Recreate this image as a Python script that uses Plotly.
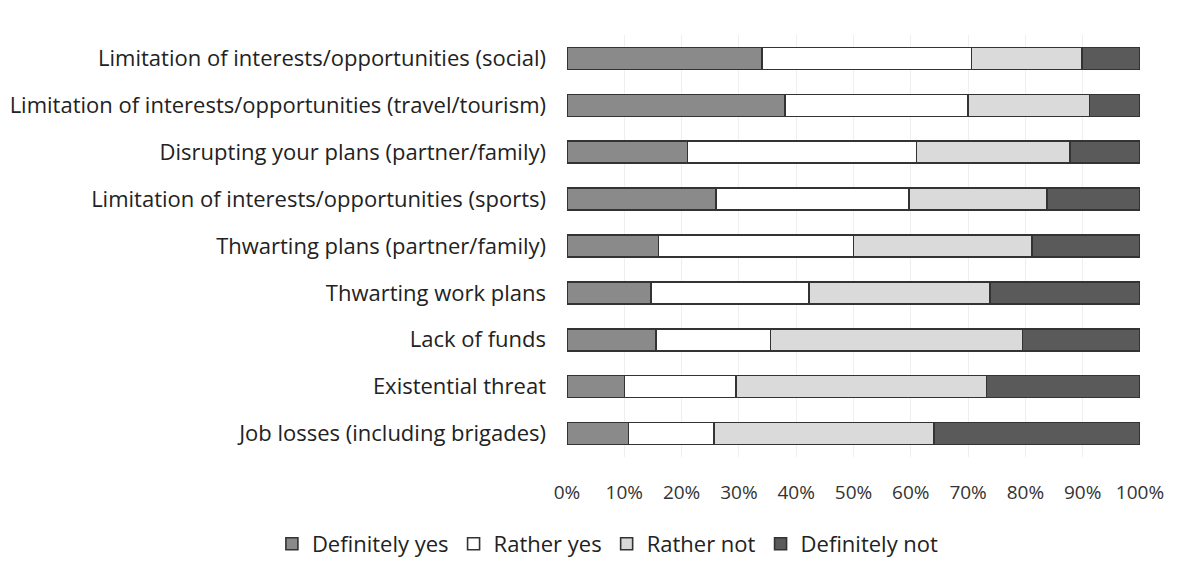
import plotly.graph_objects as go

# Survey items, listed top to bottom
categories = [
    "Limitation of interests/opportunities (social)",
    "Limitation of interests/opportunities (travel/tourism)",
    "Disrupting your plans (partner/family)",
    "Limitation of interests/opportunities (sports)",
    "Thwarting plans (partner/family)",
    "Thwarting work plans",
    "Lack of funds",
    "Existential threat",
    "Job losses (including brigades)",
]

# Answer shares (fractions of respondents)
definitely_yes = [0.34, 0.38, 0.21, 0.26, 0.16, 0.147, 0.155, 0.10, 0.107]
rather_yes = [0.366, 0.32, 0.40, 0.337, 0.34, 0.275, 0.20, 0.195, 0.15]
rather_not = [0.193, 0.212, 0.268, 0.241, 0.312, 0.316, 0.44, 0.437, 0.384]
definitely_not = [0.101, 0.088, 0.122, 0.162, 0.188, 0.262, 0.205, 0.268, 0.359]

series = [
    ("Definitely yes", definitely_yes, "#8a8a8a"),
    ("Rather yes", rather_yes, "#ffffff"),
    ("Rather not", rather_not, "#dadada"),
    ("Definitely not", definitely_not, "#5a5a5a"),
]

fig = go.Figure()
for name, vals, color in series:
    fig.add_trace(go.Bar(
        y=categories,
        x=vals,
        name=name,
        orientation="h",
        marker=dict(color=color, line=dict(color="#333333", width=1.6)),
    ))

font_family = "'Open Sans', sans-serif"

fig.update_layout(
    barmode="stack",
    bargap=0.53,
    width=1186,
    height=569,
    margin=dict(l=567, r=46, t=35, b=112, autoexpand=False),
    paper_bgcolor="white",
    plot_bgcolor="white",
    font=dict(family=font_family, size=18, color="#222222"),
    showlegend=True,
    legend=dict(
        orientation="h",
        xref="paper",
        yref="paper",
        x=-0.515,
        xanchor="left",
        y=-0.206,
        yanchor="middle",
        traceorder="normal",
        font=dict(size=22, color="#222222"),
        itemwidth=30,
    ),
    xaxis=dict(
        range=[0, 1],
        dtick=0.1,
        tick0=0,
        tickformat=".0%",
        showgrid=True,
        gridcolor="#efefef",
        gridwidth=1,
        zeroline=False,
        showline=False,
        ticks="",
        ticklabelstandoff=22,
        tickfont=dict(size=19, color="#333333"),
        fixedrange=True,
    ),
    yaxis=dict(
        autorange="reversed",
        showgrid=False,
        showline=False,
        ticks="",
        ticklabelstandoff=20,
        tickfont=dict(size=22, color="#222222"),
    ),
)

fig.write_html("out.html")
